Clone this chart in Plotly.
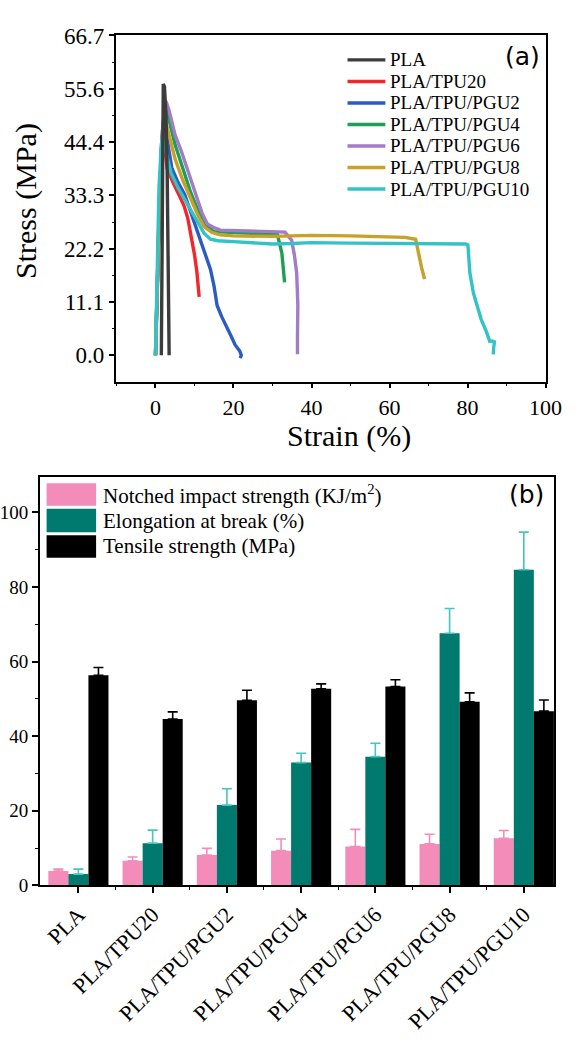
import plotly.graph_objects as go

# ---------------- Panel (a): stress-strain curves ----------------
series_names = ["PLA", "PLA/TPU20", "PLA/TPU/PGU2", "PLA/TPU/PGU4",
                "PLA/TPU/PGU6", "PLA/TPU/PGU8", "PLA/TPU/PGU10"]
series_colors = ["#3c3c3c", "#f2262b", "#2b5cc0", "#1e9e57",
                 "#a27bc9", "#c9a02a", "#33c3c6"]

pla_strain = [1.5, 1.7, 1.85, 2.0, 2.3, 2.7, 3.0, 3.2, 3.4, 3.5]
pla_stress = [0, 25, 48, 56.6, 56, 50, 38, 20, 5, 0]

tpu20_strain = [0, 0.3, 0.7, 1.2, 1.7, 2.2, 3.0, 4.5, 6.0, 7.4, 8.3, 9.2, 10.0, 10.6, 11.2]
tpu20_stress = [0, 10, 24, 37, 44, 44.6, 39, 36, 33.5, 31, 28.5, 24.7, 21, 17.5, 12.2]

pgu2_strain = [0, 0.4, 0.9, 1.5, 2.2, 2.8, 4.2, 5.8, 7.5, 10.0, 12.0, 13.0, 14.1, 15.0,
               15.8, 17.0, 18.3, 19.5, 20.4, 21.6, 22.0, 21.7]
pgu2_stress = [0, 13, 30, 43, 49.6, 46, 39, 36, 33.5, 27.4, 22.6, 20.5, 17.9, 14.5,
               10.4, 8, 5.6, 3.8, 2.2, 0.9, 0, -0.6]

pgu4_strain = [0, 0.4, 1.0, 1.7, 2.5, 3.5, 5.0, 7.0, 9.0, 11.0, 13.0, 15.0, 20.0, 25.0,
               29.0, 31.2, 32.4, 33.1]
pgu4_stress = [0, 14, 32, 46, 52.7, 49, 44, 39, 34, 30, 27, 25.8, 25.6, 25.4,
               25.3, 25.4, 21.3, 15.2]

pgu6_strain = [0, 0.4, 1.0, 1.8, 2.7, 3.5, 5.0, 6.7, 8.3, 10.0, 12.0, 13.3, 14.8, 16.6,
               20, 25, 30, 33.2, 34.9, 35.6, 36.2, 36.5, 36.4, 36.4]
pgu6_stress = [0, 14, 32, 47, 53.0, 51, 46, 42.4, 38.5, 34.2, 29.5, 27.4, 26.7, 26.1,
               26.0, 25.9, 25.8, 25.7, 24.0, 21, 17.2, 10.4, 4, 0.2]

pgu8_strain = [0, 0.4, 1.0, 1.7, 2.3, 3.0, 5.0, 7.0, 9.2, 11.0, 12.5, 14.5, 16.6, 20,
               30, 40, 50, 60, 64, 66.7, 67.5, 68.3, 69.0]
pgu8_stress = [0, 14, 32, 44, 49.2, 47.5, 41, 36.5, 32.2, 29, 26.8, 25.6, 25.1, 24.9,
               24.8, 25.0, 24.9, 24.8, 24.6, 24.2, 21, 18, 15.9]

pgu10_strain = [0, 0.3, 0.9, 1.5, 2.1, 2.8, 4.0, 5.8, 8.0, 10.0, 12.5, 14.1, 16, 20, 25,
                30, 35, 40, 50, 60, 70, 76, 79.5, 80.1, 80.6, 81.5, 82.4, 83.5, 84.8,
                85.7, 86.3, 86.9, 86.7, 86.6]
pgu10_stress = [0, 15, 35, 44, 46.5, 42, 38, 34.9, 31.8, 28.8, 25.4, 24.2, 23.9, 23.7,
                23.5, 23.2, 23.3, 23.5, 23.4, 23.3, 23.3, 23.2, 23.2, 23.0, 17.2, 13,
                10.4, 7.5, 5.0, 2.9, 3.0, 2.8, 1.5, 0.2]

curves_x = [pla_strain, tpu20_strain, pgu2_strain, pgu4_strain, pgu6_strain, pgu8_strain, pgu10_strain]
curves_y = [pla_stress, tpu20_stress, pgu2_stress, pgu4_stress, pgu6_stress, pgu8_stress, pgu10_stress]

stress_ticks = [0, 11.12, 22.23, 33.35, 44.47, 55.58, 66.7]
stress_ticktext = ["0.0", "11.1", "22.2", "33.3", "44.4", "55.6", "66.7"]
strain_ticks = [0, 20, 40, 60, 80, 100]

# ---------------- Panel (b): bar chart ----------------
categories = ["PLA", "PLA/TPU20", "PLA/TPU/PGU2", "PLA/TPU/PGU4",
              "PLA/TPU/PGU6", "PLA/TPU/PGU8", "PLA/TPU/PGU10"]
impact = [3.85, 6.6, 8.1, 9.3, 10.4, 11.1, 12.6]
impact_top = [4.35, 7.6, 9.9, 12.4, 15.0, 13.7, 14.7]
elong = [3.0, 11.3, 21.5, 32.9, 34.5, 67.6, 84.6]
elong_top = [4.35, 14.8, 25.9, 35.4, 38.1, 74.2, 94.7]
tensile = [56.3, 44.6, 49.6, 52.7, 53.3, 49.2, 46.7]
tensile_top = [58.4, 46.5, 52.3, 54.0, 55.1, 51.6, 49.7]

bar_names = ["Notched impact strength (KJ/m<sup>2</sup>)",
             "Elongation at break (%)", "Tensile strength (MPa)"]
bar_colors = ["#f48cb9", "#00796f", "#000000"]
err_colors = ["#f48cb9", "#45c4c0", "#000000"]

SERIF = "Liberation Serif"
W, H = 580, 1043

fig = go.Figure()

order = [1, 2, 3, 4, 5, 6, 0]  # draw PLA last so it sits on top
for i in order:
    fig.add_trace(go.Scatter(
        x=curves_x[i], y=curves_y[i], mode="lines", name=series_names[i],
        line=dict(color=series_colors[i], width=3.4),
        showlegend=False, xaxis="x", yaxis="y"))

xs = list(range(len(categories)))
vals = [impact, elong, tensile]
tops = [impact_top, elong_top, tensile_top]
for k in range(3):
    fig.add_trace(go.Bar(
        x=xs, y=vals[k], name=bar_names[k], marker=dict(color=bar_colors[k], line=dict(width=0)),
        error_y=dict(type="data", symmetric=False,
                     array=[t - v for t, v in zip(tops[k], vals[k])],
                     arrayminus=[0] * len(xs), color=err_colors[k], thickness=1.6, width=5),
        showlegend=False, xaxis="x2", yaxis="y2", offsetgroup=str(k)))


def px_x(p):
    return p / W


def px_y(p):
    return 1 - p / H


axis_common = dict(showline=True, linecolor="black", linewidth=1.5, mirror=True,
                   ticks="outside", tickcolor="black", tickwidth=1.5, showgrid=False,
                   zeroline=False)

fig.update_layout(
    width=W, height=H, margin=dict(l=0, r=0, t=0, b=0),
    paper_bgcolor="white", plot_bgcolor="white",
    barmode="group", bargap=0.19, bargroupgap=0,
    font=dict(family=SERIF, color="black"),
    showlegend=False,
    xaxis=dict(domain=[px_x(120), px_x(562)], range=[-10, 100], anchor="y",
               tickvals=strain_ticks, ticklen=5,
               minor=dict(tickvals=[-10, 10, 30, 50, 70, 90], ticklen=3, tickcolor="black", tickwidth=1.2),
               tickfont=dict(family=SERIF, size=22),
               **axis_common),
    yaxis=dict(domain=[px_y(378), px_y(24)], range=[-5.5, 66.7], anchor="x",
               tickvals=stress_ticks, ticktext=stress_ticktext, ticklen=6,
               minor=dict(tickvals=[5.56, 16.68, 27.79, 38.91, 50.03, 61.14], ticklen=3,
                          tickcolor="black", tickwidth=1.2),
               tickfont=dict(family=SERIF, size=23),
               **axis_common),
    xaxis2=dict(domain=[px_x(41), px_x(571)], range=[-0.52, 6.41], anchor="y2",
                tickvals=xs, ticktext=categories, tickangle=-45, ticklen=6,
                minor=dict(tickvals=[0.5, 1.5, 2.5, 3.5, 4.5, 5.5], ticklen=3,
                           tickcolor="black", tickwidth=1.2),
                tickfont=dict(family=SERIF, size=22),
                **axis_common),
    yaxis2=dict(domain=[px_y(893), px_y(475)], range=[0, 109.6], anchor="x2",
                tickvals=[0, 20, 40, 60, 80, 100], ticklen=6,
                minor=dict(tickvals=[10, 30, 50, 70, 90], ticklen=3, tickcolor="black", tickwidth=1.2),
                tickfont=dict(family=SERIF, size=19),
                **axis_common),
)

# axis titles for panel (a)
fig.add_annotation(xref="paper", yref="paper", x=px_x(360), y=px_y(434), xanchor="center",
                   yanchor="middle", showarrow=False, text="Strain (%)",
                   font=dict(family=SERIF, size=30, color="black"))
fig.add_annotation(xref="paper", yref="paper", x=px_x(27), y=px_y(193), xanchor="center",
                   yanchor="middle", showarrow=False, text="Stress (MPa)", textangle=-90,
                   font=dict(family=SERIF, size=30, color="black"))

# legend for panel (a): line sample + label per series
leg_rows = [49, 71, 93, 115, 137, 159, 181]
for i, yy in enumerate(leg_rows):
    fig.add_shape(type="line", xref="paper", yref="paper",
                  x0=px_x(358), x1=px_x(397), y0=px_y(yy), y1=px_y(yy),
                  line=dict(color=series_colors[i], width=3.4))
    fig.add_annotation(xref="paper", yref="paper", x=px_x(400), y=px_y(yy),
                       xanchor="left", yanchor="middle", showarrow=False,
                       text=series_names[i], font=dict(family=SERIF, size=19, color="black"))

# legend for panel (b): big swatches
sw_rows = [(482, 505), (508, 532), (535, 558)]
for k, (y0, y1) in enumerate(sw_rows):
    fig.add_shape(type="rect", xref="paper", yref="paper",
                  x0=px_x(48), x1=px_x(99), y0=px_y(y1), y1=px_y(y0),
                  fillcolor=bar_colors[k], line=dict(width=0))
    fig.add_annotation(xref="paper", yref="paper", x=px_x(104), y=px_y((y0 + y1) / 2),
                       xanchor="left", yanchor="middle", showarrow=False,
                       text=bar_names[k], font=dict(family=SERIF, size=21, color="black"))

fig.add_annotation(xref="paper", yref="paper", x=px_x(558), y=px_y(46), xanchor="right",
                   yanchor="middle", showarrow=False, text="(a)",
                   font=dict(family="DejaVu Sans", size=25, color="black"))
fig.add_annotation(xref="paper", yref="paper", x=px_x(562), y=px_y(493), xanchor="right",
                   yanchor="middle", showarrow=False, text="(b)",
                   font=dict(family="DejaVu Sans", size=25, color="black"))

fig.write_html("out.html")
